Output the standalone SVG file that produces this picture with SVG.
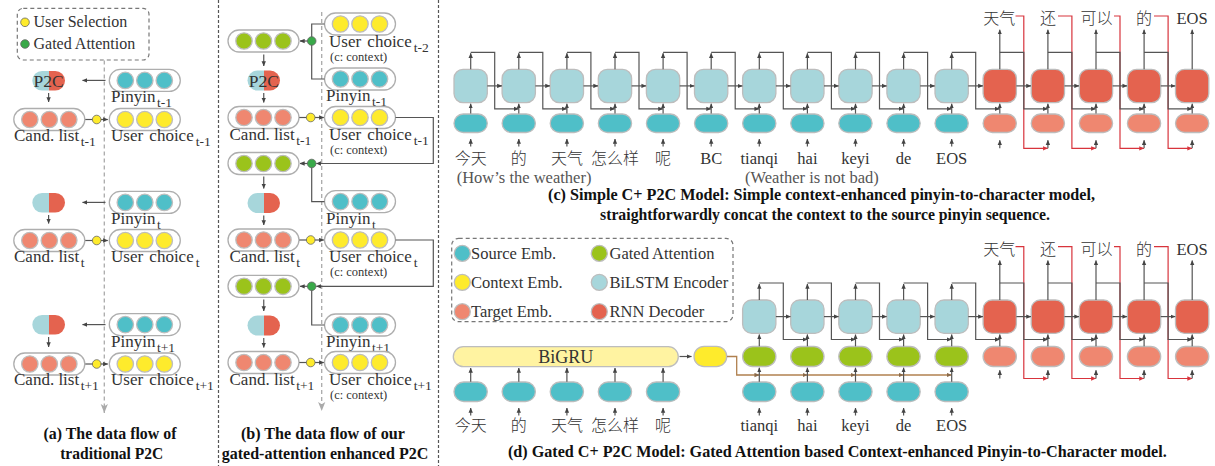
<svg xmlns="http://www.w3.org/2000/svg" width="1215" height="466" viewBox="0 0 1215 466">
<defs>
<style>
.t{font-family:"Liberation Serif","Noto Sans CJK SC",serif;fill:#333;font-size:16px}
.lb{font-size:17px}
.cjk{font-family:"Noto Sans CJK SC",sans-serif;font-weight:300;fill:#333;font-size:16px}
.pl{font-size:16.5px}
.m{text-anchor:middle}
.sub{font-size:13.5px}
.note{font-size:12.5px}
.cap{font-family:"Liberation Serif",serif;font-weight:bold;fill:#111;font-size:16.5px}
.p2c{font-size:17.5px}
.enc{fill:#A7D6DB;stroke:#BDBDBD;stroke-width:1.3}
.dec{fill:#E4634F;stroke:#BDBDBD;stroke-width:1.3}
.src{fill:#4FBFC8;stroke:#BDBDBD;stroke-width:1.3}
.tgt{fill:#EF8770;stroke:#BDBDBD;stroke-width:1.3}
.gate{fill:#9BC31B;stroke:#BDBDBD;stroke-width:1.3}
.ctx{fill:#FEEB2C;stroke:#BDBDBD;stroke-width:1.3}
.gru{fill:#FFF3A1;stroke:#BDBDBD;stroke-width:1.3}
.cont{fill:#fff;stroke:#AEAEAE;stroke-width:1.3}
.dy{fill:#FEEB2C;stroke:#666;stroke-width:0.8}
.dg{fill:#39A949;stroke:#666;stroke-width:0.8}
.ln{fill:none;stroke:#555;stroke-width:1.2}
.ar{fill:none;stroke:#555;stroke-width:1.2;marker-end:url(#ah)}
.red{fill:none;stroke:#D8343C;stroke-width:1.2;marker-end:url(#ahr)}
.brn{fill:none;stroke:#B0804F;stroke-width:1.3;marker-end:url(#ahb)}
.flow{fill:none;stroke:#AAA;stroke-width:1.3;stroke-dasharray:4 3;marker-end:url(#ahg)}
.border{fill:none;stroke:#555;stroke-width:1.2;stroke-dasharray:3 2}
.lg{fill:none;stroke:#777;stroke-width:1.2;stroke-dasharray:4 3}
</style>
<marker id="ah" viewBox="0 0 6 6" refX="5.6" refY="3" markerWidth="5" markerHeight="5" markerUnits="userSpaceOnUse" orient="auto"><path d="M0,0.4 L6,3 L0,5.6 z" fill="#444"/></marker>
<marker id="ahr" viewBox="0 0 6 6" refX="5.6" refY="3" markerWidth="5" markerHeight="5" markerUnits="userSpaceOnUse" orient="auto"><path d="M0,0.4 L6,3 L0,5.6 z" fill="#D8343C"/></marker>
<marker id="ahb" viewBox="0 0 6 6" refX="5.6" refY="3" markerWidth="5" markerHeight="5" markerUnits="userSpaceOnUse" orient="auto"><path d="M0,0.4 L6,3 L0,5.6 z" fill="#8A6A4A"/></marker>
<marker id="ahg" viewBox="0 0 10 8" refX="10" refY="4" markerWidth="9" markerHeight="8" markerUnits="userSpaceOnUse" orient="auto"><path d="M0,0 L10,4 L0,8 L2.5,4 z" fill="#AAA"/></marker>
<linearGradient id="p2c" x1="0" y1="0" x2="1" y2="0"><stop offset="0.5" stop-color="#A7D6DB"/><stop offset="0.5" stop-color="#E4634F"/></linearGradient>
<g id="rs"><rect class="cont" width="71" height="22" rx="11"/><circle class="src" cx="16" cy="11" r="8.2"/><circle class="src" cx="35.5" cy="11" r="8.2"/><circle class="src" cx="55" cy="11" r="8.2"/></g>
<g id="rt"><rect class="cont" width="71" height="22" rx="11"/><circle class="tgt" cx="16" cy="11" r="8.2"/><circle class="tgt" cx="35.5" cy="11" r="8.2"/><circle class="tgt" cx="55" cy="11" r="8.2"/></g>
<g id="ry"><rect class="cont" width="71" height="22" rx="11"/><circle class="ctx" cx="16" cy="11" r="8.2"/><circle class="ctx" cx="35.5" cy="11" r="8.2"/><circle class="ctx" cx="55" cy="11" r="8.2"/></g>
<g id="rg"><rect class="cont" width="71" height="22" rx="11"/><circle class="gate" cx="16" cy="11" r="8.2"/><circle class="gate" cx="35.5" cy="11" r="8.2"/><circle class="gate" cx="55" cy="11" r="8.2"/></g>
</defs>
<rect width="1215" height="466" fill="#fff"/>

<g id="panel-borders"><path class="border" d="M218.5,0V466M438.5,0V466"/></g>

<!-- Panel a -->
<g id="a-legend"><rect class="lg" x="17.3" y="8.3" width="131.7" height="51.7" rx="6"/><circle class="dy" cx="25" cy="22.3" r="4.3"/><text class="t" x="33.5" y="27.3">User Selection</text><circle class="dg" cx="25" cy="44" r="4.3"/><text class="t" x="33.5" y="49">Gated Attention</text></g>
<g id="a-p2c-1"><rect x="32.3" y="71" width="32.7" height="19.5" rx="9.75" fill="url(#p2c)"/><text class="t m p2c" x="48.6" y="86.7">P2C</text></g>
<g id="a-pinyin-1"><use href="#rs" x="109.3" y="69.4"/><text class="t lb" x="111" y="101.9">Pinyin<tspan class="sub" dx="1.5" dy="5">t-1</tspan></text></g>
<g id="a-cand-1"><use href="#rt" x="13.8" y="108.5"/><text class="t lb" x="14" y="140.5">Cand. list<tspan class="sub" dx="1.5" dy="5">t-1</tspan></text></g>
<g id="a-uc-1"><use href="#ry" x="109.3" y="108.5"/><text class="t lb" x="111" y="140.5" word-spacing="2">User choice<tspan class="sub" dx="2" dy="5">t-1</tspan></text></g>
<g id="a-p2c-2"><rect x="32.3" y="193" width="32.7" height="19.5" rx="9.75" fill="url(#p2c)"/></g>
<g id="a-pinyin-2"><use href="#rs" x="109.3" y="191.4"/><text class="t lb" x="111" y="224">Pinyin<tspan class="sub" dx="1.5" dy="5">t</tspan></text></g>
<g id="a-cand-2"><use href="#rt" x="13.8" y="229.5"/><text class="t lb" x="14" y="261.5">Cand. list<tspan class="sub" dx="1.5" dy="5">t</tspan></text></g>
<g id="a-uc-2"><use href="#ry" x="109.3" y="229.5"/><text class="t lb" x="111" y="261.5" word-spacing="2">User choice<tspan class="sub" dx="2" dy="5">t</tspan></text></g>
<g id="a-p2c-3"><rect x="32.3" y="315" width="32.7" height="19.5" rx="9.75" fill="url(#p2c)"/></g>
<g id="a-pinyin-3"><use href="#rs" x="109.3" y="313.6"/><text class="t lb" x="111" y="346.5">Pinyin<tspan class="sub" dx="1.5" dy="5">t+1</tspan></text></g>
<g id="a-cand-3"><use href="#rt" x="13.8" y="353"/><text class="t lb" x="14" y="384.8">Cand. list<tspan class="sub" dx="1.5" dy="5">t+1</tspan></text></g>
<g id="a-uc-3"><use href="#ry" x="109.3" y="353"/><text class="t lb" x="111" y="384.8" word-spacing="2">User choice<tspan class="sub" dx="2" dy="5">t+1</tspan></text></g>
<g id="a-caption"><text class="cap m" x="110" y="439" textLength="133" lengthAdjust="spacingAndGlyphs">(a) The data flow of</text><text class="cap m" x="111.7" y="459" textLength="103" lengthAdjust="spacingAndGlyphs">traditional P2C</text></g>

<!-- Panel b -->
<g id="b-uc-0"><use href="#ry" x="324.5" y="13"/><text class="t lb" x="329" y="46.5" word-spacing="2">User choice<tspan class="sub" dx="2" dy="5">t-2</tspan></text><text class="t note" x="330" y="60.5">(c: context)</text></g>
<g id="b-gate-1"><use href="#rg" x="228" y="30"/></g>
<g id="b-p2c-1"><rect x="247.5" y="70.5" width="32.5" height="20" rx="10" fill="url(#p2c)"/><text class="t m p2c" x="263.75" y="86.7">P2C</text></g>
<g id="b-pinyin-1"><use href="#rs" x="324.5" y="68"/><text class="t lb" x="326" y="101">Pinyin<tspan class="sub" dx="1.5" dy="5">t-1</tspan></text></g>
<g id="b-cand-1"><use href="#rt" x="228" y="106.5"/><text class="t lb" x="229.5" y="140">Cand. list<tspan class="sub" dx="1.5" dy="5">t-1</tspan></text></g>
<g id="b-uc-1"><use href="#ry" x="324.5" y="106.5"/><text class="t lb" x="329" y="140" word-spacing="2">User choice<tspan class="sub" dx="2" dy="5">t-1</tspan></text><text class="t note" x="330" y="154">(c: context)</text></g>
<g id="b-gate-2"><use href="#rg" x="228" y="152.5"/></g>
<g id="b-p2c-2"><rect x="247.5" y="193" width="32.5" height="20" rx="10" fill="url(#p2c)"/></g>
<g id="b-pinyin-2"><use href="#rs" x="324.5" y="190.6"/><text class="t lb" x="326" y="223.6">Pinyin<tspan class="sub" dx="1.5" dy="5">t</tspan></text></g>
<g id="b-cand-2"><use href="#rt" x="228" y="229"/><text class="t lb" x="229.5" y="262">Cand. list<tspan class="sub" dx="1.5" dy="5">t</tspan></text></g>
<g id="b-uc-2"><use href="#ry" x="324.5" y="229"/><text class="t lb" x="329" y="262" word-spacing="2">User choice<tspan class="sub" dx="2" dy="5">t</tspan></text><text class="t note" x="330" y="276">(c: context)</text></g>
<g id="b-gate-3"><use href="#rg" x="228" y="275.3"/></g>
<g id="b-p2c-3"><rect x="247.5" y="315.5" width="32.5" height="20" rx="10" fill="url(#p2c)"/></g>
<g id="b-pinyin-3"><use href="#rs" x="324.5" y="314"/><text class="t lb" x="326" y="347">Pinyin<tspan class="sub" dx="1.5" dy="5">t+1</tspan></text></g>
<g id="b-cand-3"><use href="#rt" x="228" y="351.5"/><text class="t lb" x="229.5" y="384.5">Cand. list<tspan class="sub" dx="1.5" dy="5">t+1</tspan></text></g>
<g id="b-uc-3"><use href="#ry" x="324.5" y="351.5"/><text class="t lb" x="329" y="384.5" word-spacing="2">User choice<tspan class="sub" dx="2" dy="5">t+1</tspan></text><text class="t note" x="330" y="399">(c: context)</text></g>
<g id="b-caption"><text class="cap m" x="322.9" y="438.5" textLength="164" lengthAdjust="spacingAndGlyphs">(b) The data flow of our</text><text class="cap m" x="325" y="458.5" textLength="206.6" lengthAdjust="spacingAndGlyphs">gated-attention enhanced P2C</text></g>

<!-- Panel c nodes -->
<g id="c-enc-0"><rect class="enc" x="454" y="69.3" width="33.3" height="33.3" rx="9"/></g>
<g id="c-enc-1"><rect class="enc" x="502.1" y="69.3" width="33.3" height="33.3" rx="9"/></g>
<g id="c-enc-2"><rect class="enc" x="550.2" y="69.3" width="33.3" height="33.3" rx="9"/></g>
<g id="c-enc-3"><rect class="enc" x="598.3" y="69.3" width="33.3" height="33.3" rx="9"/></g>
<g id="c-enc-4"><rect class="enc" x="646.4" y="69.3" width="33.3" height="33.3" rx="9"/></g>
<g id="c-enc-5"><rect class="enc" x="694.5" y="69.3" width="33.3" height="33.3" rx="9"/></g>
<g id="c-enc-6"><rect class="enc" x="742.6" y="69.3" width="33.3" height="33.3" rx="9"/></g>
<g id="c-enc-7"><rect class="enc" x="790.7" y="69.3" width="33.3" height="33.3" rx="9"/></g>
<g id="c-enc-8"><rect class="enc" x="838.8" y="69.3" width="33.3" height="33.3" rx="9"/></g>
<g id="c-enc-9"><rect class="enc" x="886.9" y="69.3" width="33.3" height="33.3" rx="9"/></g>
<g id="c-enc-10"><rect class="enc" x="935" y="69.3" width="33.3" height="33.3" rx="9"/></g>
<g id="c-dec-0"><rect class="dec" x="983.1" y="69.3" width="33.3" height="33.3" rx="9"/><text class="cjk m" x="999.3" y="24">天气</text></g>
<g id="c-dec-1"><rect class="dec" x="1031.2" y="69.3" width="33.3" height="33.3" rx="9"/><text class="cjk m" x="1047.9" y="24">还</text></g>
<g id="c-dec-2"><rect class="dec" x="1079.3" y="69.3" width="33.3" height="33.3" rx="9"/><text class="cjk m" x="1096.5" y="24">可以</text></g>
<g id="c-dec-3"><rect class="dec" x="1127.4" y="69.3" width="33.3" height="33.3" rx="9"/><text class="cjk m" x="1144.1" y="24">的</text></g>
<g id="c-dec-4"><rect class="dec" x="1175.5" y="69.3" width="33.3" height="33.3" rx="9"/><text class="t pl m" x="1192" y="24">EOS</text></g>
<g id="c-src-0"><rect class="src" x="454" y="114" width="33.3" height="18.5" rx="9.25"/><text class="cjk m" x="470.7" y="163.5">今天</text></g>
<g id="c-src-1"><rect class="src" x="502.1" y="114" width="33.3" height="18.5" rx="9.25"/><text class="cjk m" x="518.8" y="163.5">的</text></g>
<g id="c-src-2"><rect class="src" x="550.2" y="114" width="33.3" height="18.5" rx="9.25"/><text class="cjk m" x="566.9" y="163.5">天气</text></g>
<g id="c-src-3"><rect class="src" x="598.3" y="114" width="33.3" height="18.5" rx="9.25"/><text class="cjk m" x="615" y="163.5">怎么样</text></g>
<g id="c-src-4"><rect class="src" x="646.4" y="114" width="33.3" height="18.5" rx="9.25"/><text class="cjk m" x="663.1" y="163.5">呢</text></g>
<g id="c-src-5"><rect class="src" x="694.5" y="114" width="33.3" height="18.5" rx="9.25"/><text class="t pl m" x="711.2" y="163.5">BC</text></g>
<g id="c-src-6"><rect class="src" x="742.6" y="114" width="33.3" height="18.5" rx="9.25"/><text class="t pl m" x="759.3" y="163.5">tianqi</text></g>
<g id="c-src-7"><rect class="src" x="790.7" y="114" width="33.3" height="18.5" rx="9.25"/><text class="t pl m" x="807.4" y="163.5">hai</text></g>
<g id="c-src-8"><rect class="src" x="838.8" y="114" width="33.3" height="18.5" rx="9.25"/><text class="t pl m" x="855.5" y="163.5">keyi</text></g>
<g id="c-src-9"><rect class="src" x="886.9" y="114" width="33.3" height="18.5" rx="9.25"/><text class="t pl m" x="903.6" y="163.5">de</text></g>
<g id="c-src-10"><rect class="src" x="935" y="114" width="33.3" height="18.5" rx="9.25"/><text class="t pl m" x="951.7" y="163.5">EOS</text></g>
<g id="c-tgt-0"><rect class="tgt" x="983.1" y="114" width="33.3" height="18.5" rx="9.25"/></g>
<g id="c-tgt-1"><rect class="tgt" x="1031.2" y="114" width="33.3" height="18.5" rx="9.25"/></g>
<g id="c-tgt-2"><rect class="tgt" x="1079.3" y="114" width="33.3" height="18.5" rx="9.25"/></g>
<g id="c-tgt-3"><rect class="tgt" x="1127.4" y="114" width="33.3" height="18.5" rx="9.25"/></g>
<g id="c-tgt-4"><rect class="tgt" x="1175.5" y="114" width="33.3" height="18.5" rx="9.25"/></g>
<g id="c-notes"><text class="t pl" x="456.7" y="182.7" style="fill:#555">(How’s the weather)</text><text class="t pl" x="745" y="182.7" style="fill:#555">(Weather is not bad)</text></g>
<g id="c-caption"><text class="cap" x="548" y="199.5" textLength="547" lengthAdjust="spacingAndGlyphs">(c) Simple C+ P2C Model: Simple context-enhanced pinyin-to-character model,</text><text class="cap" x="600" y="219.5" textLength="450" lengthAdjust="spacingAndGlyphs">straightforwardly concat the context to the source pinyin sequence.</text></g>

<!-- Panel d nodes -->
<g id="d-legend"><rect class="lg" x="451.7" y="238.3" width="281.3" height="83.4" rx="7"/>
<circle class="src" cx="462.3" cy="253.3" r="8"/><text class="t pl" x="471" y="258.5">Source Emb.</text>
<circle class="ctx" cx="462.3" cy="282.3" r="8"/><text class="t pl" x="471" y="287.5">Context Emb.</text>
<circle class="tgt" cx="462.3" cy="311.7" r="8"/><text class="t pl" x="471" y="317">Target Emb.</text>
<circle class="gate" cx="599.3" cy="253.3" r="8"/><text class="t pl" x="609.5" y="258.5">Gated Attention</text>
<circle class="enc" cx="599.3" cy="282.3" r="8"/><text class="t pl" x="609.5" y="287.5">BiLSTM Encoder</text>
<circle class="dec" cx="599.3" cy="311.7" r="8"/><text class="t pl" x="609.5" y="317">RNN Decoder</text></g>
<g id="d-bigru"><rect class="gru" x="453.3" y="346.7" width="225" height="20" rx="10"/><text class="t m" x="565.8" y="362.5" style="font-size:18px">BiGRU</text></g>
<g id="d-ctx"><rect class="ctx" x="694" y="346.3" width="32.7" height="20.3" rx="10.15"/></g>
<g id="d-ctxsrc-0"><rect class="src" x="454" y="382" width="33.3" height="19.5" rx="9.75"/><text class="cjk m" x="470.7" y="431">今天</text></g>
<g id="d-ctxsrc-1"><rect class="src" x="502.1" y="382" width="33.3" height="19.5" rx="9.75"/><text class="cjk m" x="518.8" y="431">的</text></g>
<g id="d-ctxsrc-2"><rect class="src" x="550.2" y="382" width="33.3" height="19.5" rx="9.75"/><text class="cjk m" x="566.9" y="431">天气</text></g>
<g id="d-ctxsrc-3"><rect class="src" x="598.3" y="382" width="33.3" height="19.5" rx="9.75"/><text class="cjk m" x="615" y="431">怎么样</text></g>
<g id="d-ctxsrc-4"><rect class="src" x="646.4" y="382" width="33.3" height="19.5" rx="9.75"/><text class="cjk m" x="663.1" y="431">呢</text></g>
<g id="d-src-0"><rect class="src" x="742.6" y="382" width="33.3" height="19.5" rx="9.75"/><text class="t pl m" x="759.3" y="430.5">tianqi</text></g>
<g id="d-src-1"><rect class="src" x="790.7" y="382" width="33.3" height="19.5" rx="9.75"/><text class="t pl m" x="807.4" y="430.5">hai</text></g>
<g id="d-src-2"><rect class="src" x="838.8" y="382" width="33.3" height="19.5" rx="9.75"/><text class="t pl m" x="855.5" y="430.5">keyi</text></g>
<g id="d-src-3"><rect class="src" x="886.9" y="382" width="33.3" height="19.5" rx="9.75"/><text class="t pl m" x="903.6" y="430.5">de</text></g>
<g id="d-src-4"><rect class="src" x="935" y="382" width="33.3" height="19.5" rx="9.75"/><text class="t pl m" x="951.7" y="430.5">EOS</text></g>
<g id="d-gate-0"><rect class="gate" x="742.6" y="346.5" width="33.3" height="20" rx="10"/></g>
<g id="d-gate-1"><rect class="gate" x="790.7" y="346.5" width="33.3" height="20" rx="10"/></g>
<g id="d-gate-2"><rect class="gate" x="838.8" y="346.5" width="33.3" height="20" rx="10"/></g>
<g id="d-gate-3"><rect class="gate" x="886.9" y="346.5" width="33.3" height="20" rx="10"/></g>
<g id="d-gate-4"><rect class="gate" x="935" y="346.5" width="33.3" height="20" rx="10"/></g>
<g id="d-enc-0"><rect class="enc" x="742.6" y="300" width="33.3" height="33.3" rx="9"/></g>
<g id="d-enc-1"><rect class="enc" x="790.7" y="300" width="33.3" height="33.3" rx="9"/></g>
<g id="d-enc-2"><rect class="enc" x="838.8" y="300" width="33.3" height="33.3" rx="9"/></g>
<g id="d-enc-3"><rect class="enc" x="886.9" y="300" width="33.3" height="33.3" rx="9"/></g>
<g id="d-enc-4"><rect class="enc" x="935" y="300" width="33.3" height="33.3" rx="9"/></g>
<g id="d-dec-0"><rect class="dec" x="983.1" y="300" width="33.3" height="33.3" rx="9"/><text class="cjk m" x="999.3" y="254.5">天气</text></g>
<g id="d-dec-1"><rect class="dec" x="1031.2" y="300" width="33.3" height="33.3" rx="9"/><text class="cjk m" x="1047.9" y="254.5">还</text></g>
<g id="d-dec-2"><rect class="dec" x="1079.3" y="300" width="33.3" height="33.3" rx="9"/><text class="cjk m" x="1096.5" y="254.5">可以</text></g>
<g id="d-dec-3"><rect class="dec" x="1127.4" y="300" width="33.3" height="33.3" rx="9"/><text class="cjk m" x="1144.1" y="254.5">的</text></g>
<g id="d-dec-4"><rect class="dec" x="1175.5" y="300" width="33.3" height="33.3" rx="9"/><text class="t pl m" x="1192" y="254.5">EOS</text></g>
<g id="d-tgt-0"><rect class="tgt" x="983.1" y="346.5" width="33.3" height="20" rx="10"/></g>
<g id="d-tgt-1"><rect class="tgt" x="1031.2" y="346.5" width="33.3" height="20" rx="10"/></g>
<g id="d-tgt-2"><rect class="tgt" x="1079.3" y="346.5" width="33.3" height="20" rx="10"/></g>
<g id="d-tgt-3"><rect class="tgt" x="1127.4" y="346.5" width="33.3" height="20" rx="10"/></g>
<g id="d-tgt-4"><rect class="tgt" x="1175.5" y="346.5" width="33.3" height="20" rx="10"/></g>
<g id="d-caption"><text class="cap" x="508" y="456.7" textLength="658.7" lengthAdjust="spacingAndGlyphs">(d) Gated C+ P2C Model: Gated Attention based Context-enhanced Pinyin-to-Character model.</text></g>

<!-- Connectors -->
<g id="connectors">
<!-- panel a -->
<path class="flow" d="M104.3,60.5V413"/>
<path class="ar" d="M105.5,80.4H82.5"/><path class="ar" d="M48.6,93V102"/>
<path class="ar" d="M105.5,202.4H82.5"/><path class="ar" d="M48.6,215V223.5"/>
<path class="ar" d="M105.5,324.6H82.5"/><path class="ar" d="M48.6,337V347"/>
<path class="ar" d="M85.3,119.5H107.8"/><path class="ar" d="M85.3,240.5H107.8"/><path class="ar" d="M85.3,364H107.8"/>
<circle class="dy" cx="96.7" cy="119.5" r="4.3"/><circle class="dy" cx="96.7" cy="240.5" r="4.3"/><circle class="dy" cx="96.7" cy="364" r="4.3"/>
<!-- panel b -->
<path class="flow" d="M321.7,12V411"/>
<path class="ln" d="M324.5,24H311.7V79H324.5"/>
<path class="ln" d="M311.7,163.5V201.6H324.5"/>
<path class="ln" d="M311.7,286.3V325H324.5"/>
<path class="ar" d="M311.7,41H300"/><path class="ar" d="M311.7,163.5H300"/><path class="ar" d="M311.7,286.3H300"/>
<path class="ar" d="M263.75,54.5V66"/><path class="ar" d="M263.75,93V102.5"/>
<path class="ar" d="M263.75,176.5V188.5"/><path class="ar" d="M263.75,215.5V225"/>
<path class="ar" d="M263.75,299.5V311"/><path class="ar" d="M263.75,338V347.5"/>
<path class="ar" d="M299.3,117.5H323.8"/><path class="ar" d="M299.3,240H323.8"/><path class="ar" d="M299.3,362.5H323.8"/>
<path class="ar" d="M395.5,117.5H433.3V163.5H316.3"/><path class="ar" d="M395.5,240H433.3V286.3H316.3"/>
<circle class="dy" cx="310.7" cy="117.5" r="4.3"/><circle class="dy" cx="310.7" cy="240" r="4.3"/><circle class="dy" cx="310.7" cy="362.5" r="4.3"/>
<circle class="dg" cx="311.7" cy="41" r="4.3"/><circle class="dg" cx="311.7" cy="163.5" r="4.3"/><circle class="dg" cx="311.7" cy="286.3" r="4.3"/>
<!-- panel c -->
<path class="red" d="M1015.5,16H1023.8V148.3H1047.7"/>
<path class="red" d="M1058,16H1071.9V148.3H1095.8"/>
<path class="red" d="M1114,16H1120V148.3H1143.9"/>
<path class="red" d="M1154,16H1168.1V148.3H1192"/>
<path class="ar" d="M470.7,69.3V53.3"/><path class="ar" d="M518.8,69.3V53.3"/><path class="ar" d="M566.9,69.3V53.3"/><path class="ar" d="M615,69.3V53.3"/><path class="ar" d="M663.1,69.3V53.3"/><path class="ar" d="M711.2,69.3V53.3"/><path class="ar" d="M759.3,69.3V53.3"/><path class="ar" d="M807.4,69.3V53.3"/><path class="ar" d="M855.5,69.3V53.3"/><path class="ar" d="M903.6,69.3V53.3"/><path class="ar" d="M951.7,69.3V53.3"/>
<path class="ar" d="M999.8,69.3V29.8"/><path class="ar" d="M1047.9,69.3V29.8"/><path class="ar" d="M1096,69.3V29.8"/><path class="ar" d="M1144.1,69.3V29.8"/><path class="ar" d="M1192.2,69.3V29.8"/>
<path class="ar" d="M470.7,52.3H494.7V108.8H518.6"/>
<path class="ar" d="M518.8,52.3H542.8V108.8H566.7"/>
<path class="ar" d="M566.9,52.3H590.9V108.8H614.8"/>
<path class="ar" d="M615,52.3H639V108.8H662.9"/>
<path class="ar" d="M663.1,52.3H687.1V108.8H711"/>
<path class="ar" d="M711.2,52.3H735.2V108.8H759.1"/>
<path class="ar" d="M759.3,52.3H783.3V108.8H807.2"/>
<path class="ar" d="M807.4,52.3H831.4V108.8H855.3"/>
<path class="ar" d="M855.5,52.3H879.5V108.8H903.4"/>
<path class="ar" d="M903.6,52.3H927.6V108.8H951.5"/>
<path class="ar" d="M951.7,52.3H975.7V108.8H999.6"/>
<path class="ar" d="M999.8,52.3H1023.8V108.8H1047.7"/>
<path class="ar" d="M1047.9,52.3H1071.9V108.8H1095.8"/>
<path class="ar" d="M1096,52.3H1120V108.8H1143.9"/>
<path class="ar" d="M1144.1,52.3H1168.1V108.8H1192"/>
<path class="ar" d="M487.3,85.9H501.8"/><path class="ar" d="M535.4,85.9H549.9"/><path class="ar" d="M583.5,85.9H598"/><path class="ar" d="M631.6,85.9H646.1"/><path class="ar" d="M679.7,85.9H694.2"/><path class="ar" d="M727.8,85.9H742.3"/><path class="ar" d="M775.9,85.9H790.4"/><path class="ar" d="M824,85.9H838.5"/><path class="ar" d="M872.1,85.9H886.6"/><path class="ar" d="M920.2,85.9H934.7"/><path class="ar" d="M968.3,85.9H982.8"/><path class="ar" d="M1016.4,85.9H1030.9"/><path class="ar" d="M1064.5,85.9H1079"/><path class="ar" d="M1112.6,85.9H1127.1"/><path class="ar" d="M1160.7,85.9H1175.2"/>
<path class="ar" d="M470.7,113.6V103.8"/><path class="ar" d="M518.8,113.6V103.8"/><path class="ar" d="M566.9,113.6V103.8"/><path class="ar" d="M615,113.6V103.8"/><path class="ar" d="M663.1,113.6V103.8"/><path class="ar" d="M711.2,113.6V103.8"/><path class="ar" d="M759.3,113.6V103.8"/><path class="ar" d="M807.4,113.6V103.8"/><path class="ar" d="M855.5,113.6V103.8"/><path class="ar" d="M903.6,113.6V103.8"/><path class="ar" d="M951.7,113.6V103.8"/><path class="ar" d="M999.8,113.6V103.8"/><path class="ar" d="M1047.9,113.6V103.8"/><path class="ar" d="M1096,113.6V103.8"/><path class="ar" d="M1144.1,113.6V103.8"/><path class="ar" d="M1192.2,113.6V103.8"/>
<path class="ar" d="M470.7,146.5V139"/><path class="ar" d="M518.8,146.5V139"/><path class="ar" d="M566.9,146.5V139"/><path class="ar" d="M615,146.5V139"/><path class="ar" d="M663.1,146.5V139"/><path class="ar" d="M711.2,146.5V139"/><path class="ar" d="M759.3,146.5V139"/><path class="ar" d="M807.4,146.5V139"/><path class="ar" d="M855.5,146.5V139"/><path class="ar" d="M903.6,146.5V139"/><path class="ar" d="M951.7,146.5V139"/>
<path class="ar" d="M999.8,148.3V140.3"/><path class="ar" d="M1047.9,148.3V140.3"/><path class="ar" d="M1096,148.3V140.3"/><path class="ar" d="M1144.1,148.3V140.3"/><path class="ar" d="M1192.2,148.3V140.3"/>
<!-- panel d -->
<path class="red" d="M1015.5,246.7H1023.8V378.5H1047.7"/>
<path class="red" d="M1058,246.7H1071.9V378.5H1095.8"/>
<path class="red" d="M1114,246.7H1120V378.5H1143.9"/>
<path class="red" d="M1154,246.7H1168.1V378.5H1192"/>
<path class="ar" d="M759.3,300V284"/><path class="ar" d="M807.4,300V284"/><path class="ar" d="M855.5,300V284"/><path class="ar" d="M903.6,300V284"/><path class="ar" d="M951.7,300V284"/>
<path class="ar" d="M999.8,300V260.5"/><path class="ar" d="M1047.9,300V260.5"/><path class="ar" d="M1096,300V260.5"/><path class="ar" d="M1144.1,300V260.5"/><path class="ar" d="M1192.2,300V260.5"/>
<path class="ar" d="M759.3,283H783.3V339.5H807.2"/>
<path class="ar" d="M807.4,283H831.4V339.5H855.3"/>
<path class="ar" d="M855.5,283H879.5V339.5H903.4"/>
<path class="ar" d="M903.6,283H927.6V339.5H951.5"/>
<path class="ar" d="M951.7,283H975.7V339.5H999.6"/>
<path class="ar" d="M999.8,283H1023.8V339.5H1047.7"/>
<path class="ar" d="M1047.9,283H1071.9V339.5H1095.8"/>
<path class="ar" d="M1096,283H1120V339.5H1143.9"/>
<path class="ar" d="M1144.1,283H1168.1V339.5H1192"/>
<path class="ar" d="M775.9,316.6H790.4"/><path class="ar" d="M824,316.6H838.5"/><path class="ar" d="M872.1,316.6H886.6"/><path class="ar" d="M920.2,316.6H934.7"/><path class="ar" d="M968.3,316.6H982.8"/><path class="ar" d="M1016.4,316.6H1030.9"/><path class="ar" d="M1064.5,316.6H1079"/><path class="ar" d="M1112.6,316.6H1127.1"/><path class="ar" d="M1160.7,316.6H1175.2"/>
<path class="ar" d="M759.3,346.3V334.6"/><path class="ar" d="M807.4,346.3V334.6"/><path class="ar" d="M855.5,346.3V334.6"/><path class="ar" d="M903.6,346.3V334.6"/><path class="ar" d="M951.7,346.3V334.6"/><path class="ar" d="M999.8,346.3V334.6"/><path class="ar" d="M1047.9,346.3V334.6"/><path class="ar" d="M1096,346.3V334.6"/><path class="ar" d="M1144.1,346.3V334.6"/><path class="ar" d="M1192.2,346.3V334.6"/>
<path class="ar" d="M999.8,378.5V370.3"/><path class="ar" d="M1047.9,378.5V370.3"/><path class="ar" d="M1096,378.5V370.3"/><path class="ar" d="M1144.1,378.5V370.3"/><path class="ar" d="M1192.2,378.5V370.3"/>
<path class="brn" d="M727,356.5H736.7V375H759.1"/><path class="brn" d="M759.3,375H807.2"/><path class="brn" d="M807.4,375H855.3"/><path class="brn" d="M855.5,375H903.4"/><path class="brn" d="M903.6,375H951.5"/>
<path class="ar" d="M759.3,381.7V367.8"/><path class="ar" d="M807.4,381.7V367.8"/><path class="ar" d="M855.5,381.7V367.8"/><path class="ar" d="M903.6,381.7V367.8"/><path class="ar" d="M951.7,381.7V367.8"/>
<path class="ar" d="M470.7,381.7V368"/><path class="ar" d="M518.8,381.7V368"/><path class="ar" d="M566.9,381.7V368"/><path class="ar" d="M615,381.7V368"/><path class="ar" d="M663.1,381.7V368"/>
<path class="ar" d="M470.7,415.5V408"/><path class="ar" d="M518.8,415.5V408"/><path class="ar" d="M566.9,415.5V408"/><path class="ar" d="M615,415.5V408"/><path class="ar" d="M663.1,415.5V408"/>
<path class="ar" d="M759.3,415.5V408"/><path class="ar" d="M807.4,415.5V408"/><path class="ar" d="M855.5,415.5V408"/><path class="ar" d="M903.6,415.5V408"/><path class="ar" d="M951.7,415.5V408"/>
<path class="ar" d="M679.5,356.5H691.5"/>
</g>
</svg>
